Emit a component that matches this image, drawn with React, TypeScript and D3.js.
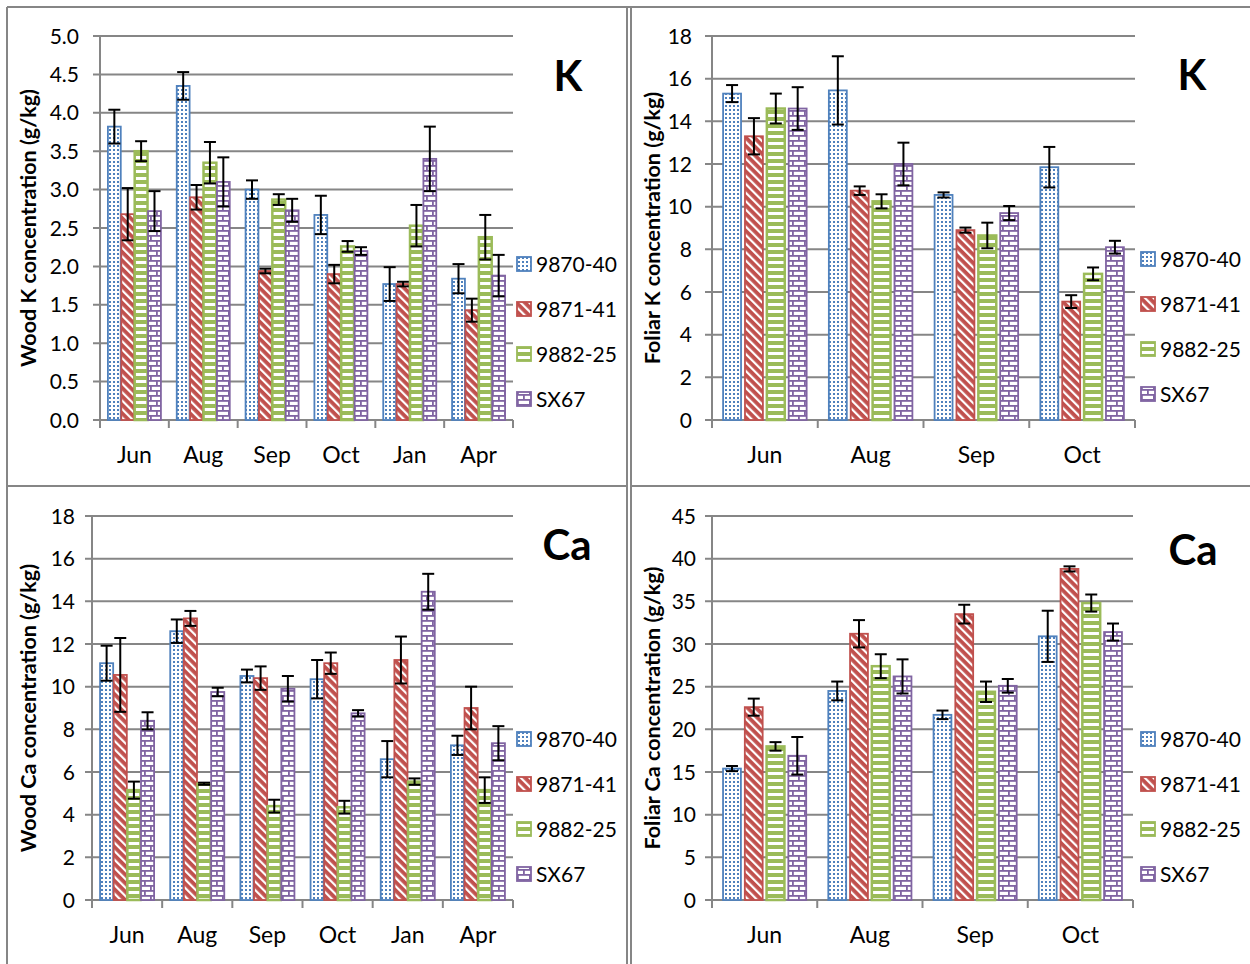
import React from "react";
import * as d3 from "d3";

// categories and series
const monthsWood = ["Jun", "Aug", "Sep", "Oct", "Jan", "Apr"];
const monthsFoliar = ["Jun", "Aug", "Sep", "Oct"];
const clones = ["9870-40", "9871-41", "9882-25", "SX67"];

// Wood K (g/kg), one row per clone
const woodKMean = [
  [3.82, 4.35, 3.0, 2.67, 1.77, 1.84],
  [2.68, 2.9, 1.94, 1.9, 1.77, 1.43],
  [3.5, 3.35, 2.87, 2.26, 2.53, 2.38],
  [2.72, 3.1, 2.73, 2.2, 3.4, 1.88],
];
const woodKErr = [
  [0.22, 0.18, 0.12, 0.25, 0.22, 0.19],
  [0.34, 0.16, 0.03, 0.12, 0.03, 0.15],
  [0.13, 0.27, 0.07, 0.07, 0.27, 0.29],
  [0.26, 0.32, 0.15, 0.05, 0.42, 0.27],
];

// Foliar K
const foliarKMean = [
  [15.3, 15.45, 10.55, 11.85],
  [13.3, 10.75, 8.9, 5.55],
  [14.6, 10.25, 8.65, 6.85],
  [14.6, 12.0, 9.7, 8.1],
];
const foliarKErr = [
  [0.4, 1.6, 0.12, 0.95],
  [0.85, 0.2, 0.12, 0.3],
  [0.7, 0.33, 0.6, 0.3],
  [1.0, 1.0, 0.33, 0.3],
];

// Wood Ca
const woodCaMean = [
  [11.1, 12.6, 10.5, 10.35, 6.6, 7.25],
  [10.55, 13.2, 10.4, 11.1, 11.25, 9.0],
  [5.15, 5.45, 4.4, 4.35, 5.55, 5.15],
  [8.4, 9.75, 9.9, 8.75, 14.45, 7.35],
];
const woodCaErr = [
  [0.82, 0.55, 0.3, 0.9, 0.85, 0.45],
  [1.73, 0.35, 0.55, 0.5, 1.1, 1.0],
  [0.4, 0.05, 0.3, 0.3, 0.15, 0.6],
  [0.4, 0.2, 0.6, 0.15, 0.84, 0.8],
];

// Foliar Ca
const foliarCaMean = [
  [15.4, 24.5, 21.7, 30.9],
  [22.6, 31.2, 33.5, 38.8],
  [18.0, 27.4, 24.4, 34.8],
  [16.9, 26.2, 25.1, 31.4],
];
const foliarCaErr = [
  [0.3, 1.1, 0.5, 3.0],
  [1.0, 1.6, 1.1, 0.3],
  [0.5, 1.4, 1.2, 1.0],
  [2.2, 2.0, 0.8, 1.0],
];

const colors = ["#4F81BD", "#C0504D", "#9BBB59", "#8064A2"];
const patterns = ["pDots", "pDiag", "pHoriz", "pBrick"];
const FONT = "Lato, Carlito, 'Open Sans', sans-serif";
const GRID = "#868686";

function Patterns() {
  return (
    <defs>
      <pattern id="pDots" width={4} height={4} patternUnits="userSpaceOnUse">
        <rect width={4} height={4} fill="#fff" />
        <rect x={1} y={1} width={2} height={2} fill={colors[0]} />
      </pattern>
      <pattern id="pDiag" width={6} height={6} patternUnits="userSpaceOnUse" patternTransform="rotate(45)">
        <rect width={6} height={6} fill="#fff" />
        <rect width={6} height={3.8} fill={colors[1]} />
      </pattern>
      <pattern id="pHoriz" width={8} height={7} patternUnits="userSpaceOnUse">
        <rect width={8} height={7} fill={colors[2]} />
        <rect y={2} width={8} height={3} fill="#fff" />
      </pattern>
      <pattern id="pBrick" width={12} height={10} patternUnits="userSpaceOnUse">
        <rect width={12} height={10} fill="#fff" />
        <rect y={0} width={12} height={1.8} fill={colors[3]} />
        <rect y={5} width={12} height={1.8} fill={colors[3]} />
        <rect x={0} y={0} width={1.8} height={5} fill={colors[3]} />
        <rect x={6} y={5} width={1.8} height={5} fill={colors[3]} />
      </pattern>
    </defs>
  );
}

type PanelProps = {
  cats: string[];
  means: number[][];
  errs: number[][];
  yMax: number;
  yStep: number;
  fmt: string;
  left: number;
  right: number;
  top: number;
  bottom: number;
  labelGap: number;
  groupPad: number;
  barPad: number;
  title: string;
  letter: string;
  letterX: number;
  letterY: number;
  labelX: number;
  legendX: number;
  legendY: number;
};

function Panel(p: PanelProps) {
  const x0 = d3.scaleBand<string>().domain(p.cats).range([p.left, p.right]).paddingInner(p.groupPad).paddingOuter(p.groupPad / 2);
  const xEdge = d3.scaleBand<string>().domain(p.cats).range([p.left, p.right]);
  const x1 = d3.scaleBand<string>().domain(clones).range([0, x0.bandwidth()]).paddingInner(p.barPad);
  const y = d3.scaleLinear().domain([0, p.yMax]).range([p.bottom, p.top]);
  const ticks = d3.range(0, p.yMax + p.yStep / 2, p.yStep);
  const f = d3.format(p.fmt);
  const bw = x1.bandwidth();
  const cap = Math.min(12, bw);

  return (
    <g fontFamily={FONT}>
      {ticks.map((t) => (
        <g key={t}>
          <line x1={p.left - 7} x2={p.right} y1={y(t)} y2={y(t)} stroke={GRID} strokeWidth={2} />
          <text x={p.left - p.labelGap} y={y(t)} dy="0.36em" textAnchor="end" fontSize={21} fill="#000">
            {f(t)}
          </text>
        </g>
      ))}
      <line x1={p.left} x2={p.left} y1={p.top} y2={p.bottom + 8} stroke={GRID} strokeWidth={2} />
      {p.cats.map((c) => (
        <g key={c}>
          <line x1={(xEdge(c) as number) + xEdge.bandwidth()} x2={(xEdge(c) as number) + xEdge.bandwidth()} y1={p.bottom} y2={p.bottom + 8} stroke={GRID} strokeWidth={2} />
          <text x={(xEdge(c) as number) + xEdge.bandwidth() / 2} y={p.bottom + 43} textAnchor="middle" fontSize={23}>
            {c}
          </text>
        </g>
      ))}
      {clones.map((s, si) => (
        <g key={s}>
          {p.cats.map((c, ci) => {
            const v = p.means[si][ci];
            const e = p.errs[si][ci];
            const bx = (x0(c) as number) + (x1(s) as number);
            const cx = bx + bw / 2;
            return (
              <g key={c}>
                <rect x={bx} y={y(v)} width={bw} height={p.bottom - y(v)} fill={`url(#${patterns[si]})`} stroke={colors[si]} strokeWidth={si === 2 ? 2.5 : 1.8} />
                <line x1={cx} x2={cx} y1={y(v + e)} y2={y(v - e)} stroke="#000" strokeWidth={2} />
                <line x1={cx - cap / 2} x2={cx + cap / 2} y1={y(v + e)} y2={y(v + e)} stroke="#000" strokeWidth={2} />
                <line x1={cx - cap / 2} x2={cx + cap / 2} y1={y(v - e)} y2={y(v - e)} stroke="#000" strokeWidth={2} />
              </g>
            );
          })}
        </g>
      ))}
      <text transform={`translate(${p.labelX},${(p.top + p.bottom) / 2}) rotate(-90)`} textAnchor="middle" dy="0.35em" fontSize={21.5} fontWeight="bold">
        {p.title}
      </text>
      <text x={p.letterX} y={p.letterY} textAnchor="middle" fontSize={42} fontWeight="bold">
        {p.letter}
      </text>
      {clones.map((s, si) => (
        <g key={s} transform={`translate(${p.legendX},${p.legendY + si * 45})`}>
          <rect x={0} y={-7} width={14} height={14} fill={`url(#${patterns[si]})`} stroke={colors[si]} strokeWidth={1.8} />
          <text x={19} y={0} dy="0.36em" fontSize={21}>
            {s}
          </text>
        </g>
      ))}
    </g>
  );
}

export default function App() {
  return (
    <svg width={1250} height={964} style={{ position: "absolute", left: 0, top: 0, background: "#fff" }}>
      <Patterns />
      <rect width={1250} height={964} fill="#fff" />
      <line x1={7} x2={1250} y1={7} y2={7} stroke={GRID} strokeWidth={2} />
      <line x1={7} x2={7} y1={7} y2={964} stroke={GRID} strokeWidth={2} />
      <line x1={627} x2={627} y1={7} y2={964} stroke={GRID} strokeWidth={2} />
      <line x1={631} x2={631} y1={7} y2={964} stroke={GRID} strokeWidth={2} />
      <line x1={7} x2={627} y1={486} y2={486} stroke={GRID} strokeWidth={2} />
      <line x1={631} x2={1250} y1={486} y2={486} stroke={GRID} strokeWidth={2} />
      <Panel cats={monthsWood} means={woodKMean} errs={woodKErr} yMax={5} yStep={0.5} fmt=".1f"
        left={100} right={513} top={36} bottom={420} labelGap={21} groupPad={0.23} barPad={0.04}
        title="Wood K concentration (g/kg)" letter="K" letterX={568} letterY={91} labelX={28} legendX={517} legendY={264} />
      <Panel cats={monthsFoliar} means={foliarKMean} errs={foliarKErr} yMax={18} yStep={2} fmt="d"
        left={712} right={1135} top={36} bottom={420} labelGap={20} groupPad={0.21} barPad={0.18}
        title="Foliar K concentration (g/kg)" letter="K" letterX={1192} letterY={90} labelX={652} legendX={1141} legendY={259} />
      <Panel cats={monthsWood} means={woodCaMean} errs={woodCaErr} yMax={18} yStep={2} fmt="d"
        left={92} right={513} top={516} bottom={900} labelGap={17} groupPad={0.23} barPad={0.04}
        title="Wood Ca concentration (g/kg)" letter="Ca" letterX={567} letterY={560} labelX={28} legendX={517} legendY={739} />
      <Panel cats={monthsFoliar} means={foliarCaMean} errs={foliarCaErr} yMax={45} yStep={5} fmt="d"
        left={712} right={1133} top={516} bottom={900} labelGap={16} groupPad={0.21} barPad={0.18}
        title="Foliar Ca concentration (g/kg)" letter="Ca" letterX={1193} letterY={565} labelX={652} legendX={1141} legendY={739} />
    </svg>
  );
}
